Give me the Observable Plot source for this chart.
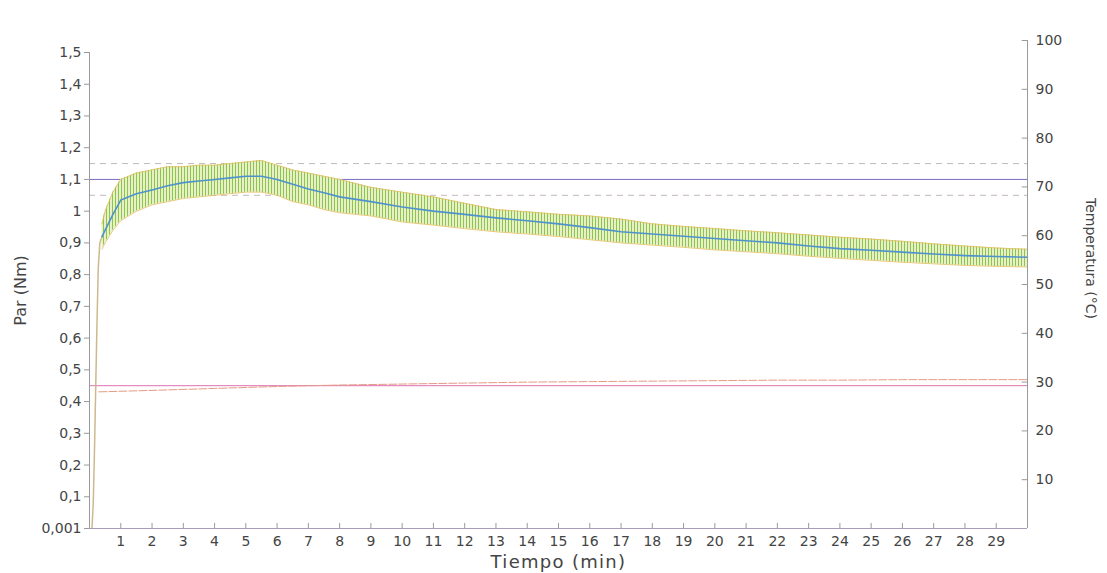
<!DOCTYPE html>
<html><head><meta charset="utf-8">
<script src="https://cdn.jsdelivr.net/npm/d3@7"></script>
<script src="https://cdn.jsdelivr.net/npm/@observablehq/plot@0.6"></script>
<style>body{margin:0;background:#fff}</style>
</head><body><div id="chart"></div>
<script>
// ---- data ----
const riseTime = [0.08, 0.12, 0.16, 0.2, 0.24, 0.28, 0.33, 0.4];
const riseTorque = [0.0, 0.08, 0.25, 0.45, 0.65, 0.82, 0.9, 0.92];

const bandTime  = [0.4,0.5,0.75,1,1.5,2,2.5,3,3.5,4,4.5,5,5.5,6,6.5,7,7.5,8,9,10,11,12,13,14,15,16,17,18,19,20,21,22,23,24,25,26,27,28,29,30];
const bandUpper = [0.96,1.0,1.06,1.1,1.12,1.13,1.14,1.14,1.145,1.145,1.15,1.155,1.16,1.145,1.13,1.12,1.11,1.1,1.075,1.06,1.045,1.025,1.005,0.998,0.99,0.985,0.975,0.96,0.952,0.945,0.938,0.932,0.925,0.918,0.912,0.905,0.897,0.89,0.884,0.88];
const bandLower = [0.88,0.9,0.94,0.97,1.0,1.02,1.03,1.04,1.045,1.05,1.055,1.06,1.06,1.05,1.03,1.02,1.005,0.995,0.985,0.966,0.956,0.945,0.935,0.928,0.92,0.91,0.9,0.893,0.886,0.878,0.872,0.866,0.858,0.851,0.845,0.839,0.834,0.829,0.826,0.824];
const meanTorque = [0.92,0.94,0.99,1.035,1.055,1.067,1.08,1.09,1.095,1.1,1.105,1.11,1.11,1.1,1.085,1.07,1.058,1.045,1.03,1.013,1.0,0.99,0.979,0.97,0.96,0.948,0.935,0.928,0.921,0.914,0.907,0.9,0.89,0.882,0.877,0.871,0.865,0.86,0.857,0.855];

const tempTime = [0.3,2,4,6,8,10,12,14,16,18,20,22,24,26,28,30];
const tempVal  = [28.0,28.3,28.7,29.1,29.4,29.6,29.8,30.0,30.1,30.2,30.3,30.4,30.4,30.5,30.5,30.5];

const refSolid = [1.1];
const refDashed = [1.15, 1.05];
const refLow = [0.45];

const xTicks = [1,2,3,4,5,6,7,8,9,10,11,12,13,14,15,16,17,18,19,20,21,22,23,24,25,26,27,28,29];
const leftTicks = [0,0.1,0.2,0.3,0.4,0.5,0.6,0.7,0.8,0.9,1,1.1,1.2,1.3,1.4,1.5];
const leftLabels = ["0,001","0,1","0,2","0,3","0,4","0,5","0,6","0,7","0,8","0,9","1","1,1","1,2","1,3","1,4","1,5"];
const rightTicks = [10,20,30,40,50,60,70,80,90,100];

// ---- build ----
const yMax = 1.5 * 488 / 476;           // top of right axis (100 °C) in torque units
const tY = t => t * yMax / 100;          // temperature -> torque-scale position

const band = bandTime.map((t, i) => ({t, hi: bandUpper[i], lo: bandLower[i], m: meanTorque[i]}));
const rise = riseTime.map((t, i) => ({t, v: riseTorque[i]}));
const temp = tempTime.map((t, i) => ({t, v: tY(tempVal[i])}));

const svg = Plot.plot({
  width: 1107, height: 573,
  marginLeft: 89, marginRight: 80, marginTop: 40, marginBottom: 45,
  x: {domain: [0, 30]},
  y: {domain: [0, yMax]},
  style: {fontFamily: "DejaVu Sans", fontSize: "14px", color: "#444", background: "#fff"},
  marks: [
    // reference lines
    Plot.ruleY(refDashed, {x1: 0, x2: 30, stroke: "#c3b9b9", strokeDasharray: "6,5"}),
    Plot.ruleY(refSolid, {x1: 0, x2: 30, stroke: "#7a6cc0", strokeWidth: 1}),
    Plot.ruleY(refLow, {x1: 0, x2: 30, stroke: "#e070b0", strokeWidth: 1}),
    Plot.line(temp, {x: "t", y: "v", stroke: "#e59a86", strokeWidth: 1, strokeDasharray: "8,2"}),
    // torque band
    Plot.areaY(band, {x: "t", y1: "lo", y2: "hi", fill: "url(#spikes)"}),
    Plot.line(band, {x: "t", y: "hi", stroke: "#e3bf62", strokeWidth: 1, strokeOpacity: 0.85}),
    Plot.line(band, {x: "t", y: "lo", stroke: "#e3bf62", strokeWidth: 1, strokeOpacity: 0.85}),
    Plot.line(rise, {x: "t", y: "v", stroke: "#cdb98c", strokeWidth: 1.5}),
    Plot.line(band, {x: "t", y: "m", stroke: "#4f93cc", strokeWidth: 1.6}),
    // axis lines
    Plot.ruleX([0], {y1: 0, y2: 1.5, stroke: "#9a9a9a"}),
    Plot.ruleX([30], {y1: 0, y2: yMax, stroke: "#9a9a9a"}),
    Plot.ruleY([0], {x1: 0, x2: 30, stroke: "#a79db8"}),
    // inward ticks
    Plot.ruleX(xTicks, {x: d => d, y1: 0, y2: 0.016, stroke: "#9a9a9a"}),
    Plot.ruleY(rightTicks, {y: d => tY(d), x1: 29.83, x2: 30, stroke: "#9a9a9a"}),
    // axes
    Plot.axisY({ticks: leftTicks, tickFormat: d => leftLabels[leftTicks.indexOf(d)], tickSize: 5, tickPadding: 3, stroke: "#9a9a9a", label: null}),
    Plot.axisY({anchor: "right", ticks: rightTicks.map(tY), tickFormat: d => String(Math.round(d / yMax * 100)), tickSize: 0, tickPadding: 8, label: null}),
    Plot.axisX({ticks: xTicks, tickSize: 0, tickPadding: 8, label: null}),
    // axis titles
    Plot.text(["Par (Nm)"], {frameAnchor: "left", textAnchor: "middle", lineAnchor: "middle", dx: -69, dy: 6, rotate: -90, fontSize: 16, fill: "#444"}),
    Plot.text(["Temperatura (°C)"], {frameAnchor: "right", textAnchor: "middle", lineAnchor: "middle", dx: 63, dy: -26, rotate: 90, fontSize: 14, fill: "#444"}),
    Plot.text(["Tiempo (min)"], {frameAnchor: "bottom", textAnchor: "middle", lineAnchor: "middle", dy: 34, fontSize: 18, fill: "#444", className: "xtitle"})
  ]
});
svg.insertAdjacentHTML("afterbegin",
  `<defs><pattern id="spikes" width="3" height="8" patternUnits="userSpaceOnUse">
     <rect width="3" height="8" fill="#f2f5d4"/>
     <line x1="1.5" y1="0" x2="1.5" y2="8" stroke="#8cc44e" stroke-width="1.2"/>
   </pattern></defs>`);
svg.querySelectorAll("text").forEach(el => {
  if (el.textContent === "Tiempo (min)") el.setAttribute("letter-spacing", "1.3");
});
document.getElementById("chart").appendChild(svg);
</script>
</body></html>
